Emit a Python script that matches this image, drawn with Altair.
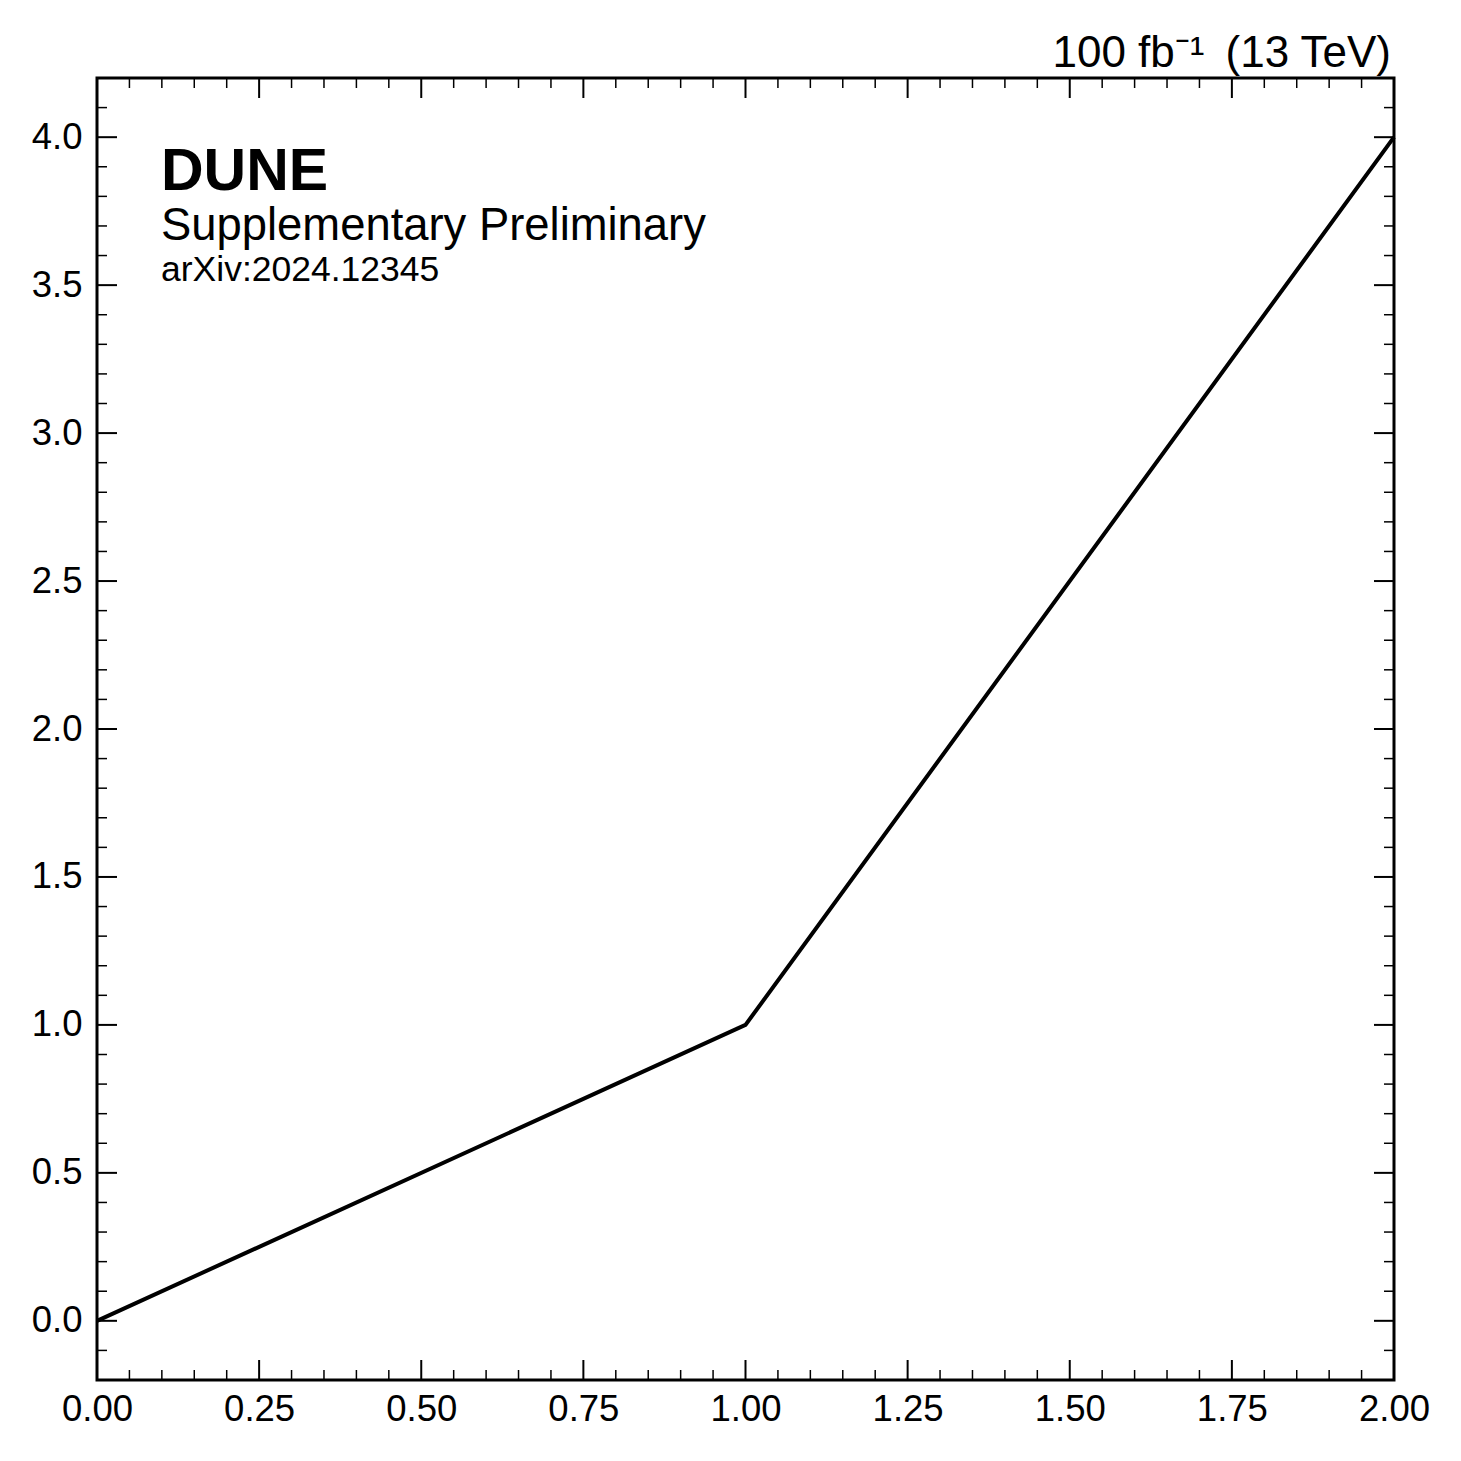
import altair as alt
import pandas as pd

# data
x_vals = [0.0, 1.0, 2.0]
y_vals = [0.0, 1.0, 4.0]

x_major = [0.0, 0.25, 0.5, 0.75, 1.0, 1.25, 1.5, 1.75, 2.0]
x_minor = [round(i * 0.05, 2) for i in range(1, 40) if i % 5 != 0]
y_major = [0.0, 0.5, 1.0, 1.5, 2.0, 2.5, 3.0, 3.5, 4.0]
y_minor = [round(-0.1 + i * 0.1, 1) for i in range(0, 43) if round((-0.1 + i * 0.1) * 10) % 5 != 0]

W, H = 1297, 1302
FONT = "Liberation Sans"

xs = alt.Scale(domain=[0, 2], nice=False, zero=False)
ys = alt.Scale(domain=[-0.2, 4.2], nice=False, zero=False)

df = pd.DataFrame({"x": x_vals, "y": y_vals})

line = alt.Chart(df).mark_line(color="black", strokeWidth=4).encode(
    x=alt.X("x:Q", scale=xs, title=None,
            axis=alt.Axis(values=x_major, format=".2f", ticks=False, domain=False, grid=False,
                          labelFont=FONT, labelFontSize=36.5, labelColor="black",
                          labelPadding=11, labelFlush=False)),
    y=alt.Y("y:Q", scale=ys, title=None,
            axis=alt.Axis(values=y_major, format=".1f", ticks=False, domain=False, grid=False,
                          labelFont=FONT, labelFontSize=36.5, labelColor="black",
                          labelPadding=15)),
)

def xticks(vals, length, width):
    d = pd.DataFrame({"t": vals})
    b = alt.Chart(d).mark_rule(color="black", strokeWidth=width)
    bottom = b.encode(x=alt.X("t:Q", scale=xs), y=alt.value(H), y2=alt.value(H - length))
    top = b.encode(x=alt.X("t:Q", scale=xs), y=alt.value(0), y2=alt.value(length))
    return [bottom, top]

def yticks(vals, length, width):
    d = pd.DataFrame({"t": vals})
    b = alt.Chart(d).mark_rule(color="black", strokeWidth=width)
    left = b.encode(y=alt.Y("t:Q", scale=ys), x=alt.value(0), x2=alt.value(length))
    right = b.encode(y=alt.Y("t:Q", scale=ys), x=alt.value(W), x2=alt.value(W - length))
    return [left, right]

ticks = xticks(x_major, 20, 2) + xticks(x_minor, 10, 1.5) + yticks(y_major, 20, 2) + yticks(y_minor, 10, 1.5)

def label(text, x, y, size, weight="normal", align="left"):
    return alt.Chart(pd.DataFrame({"t": [text]})).mark_text(
        font=FONT, fontSize=size, fontWeight=weight, align=align, baseline="alphabetic", color="black"
    ).encode(text="t:N", x=alt.value(x), y=alt.value(y))

texts = [
    label("DUNE", 64, 112, 59, "bold"),
    label("Supplementary Preliminary", 64, 162, 45.4),
    label("arXiv:2024.12345", 64, 203, 35.5),
    label("100 fb\u207b\u00b9\u2009 (13 TeV)", 1294, -11, 44, align="right"),
]

chart = alt.layer(line, *ticks, *texts).properties(
    width=W, height=H,
    autosize=alt.AutoSizeParams(type="none"),
    padding={"left": 89, "top": 70, "right": 50, "bottom": 70},
    background="white",
).configure_view(stroke="black", strokeWidth=3)

chart.save("out.html", embed_options={"renderer": "svg", "actions": False})
